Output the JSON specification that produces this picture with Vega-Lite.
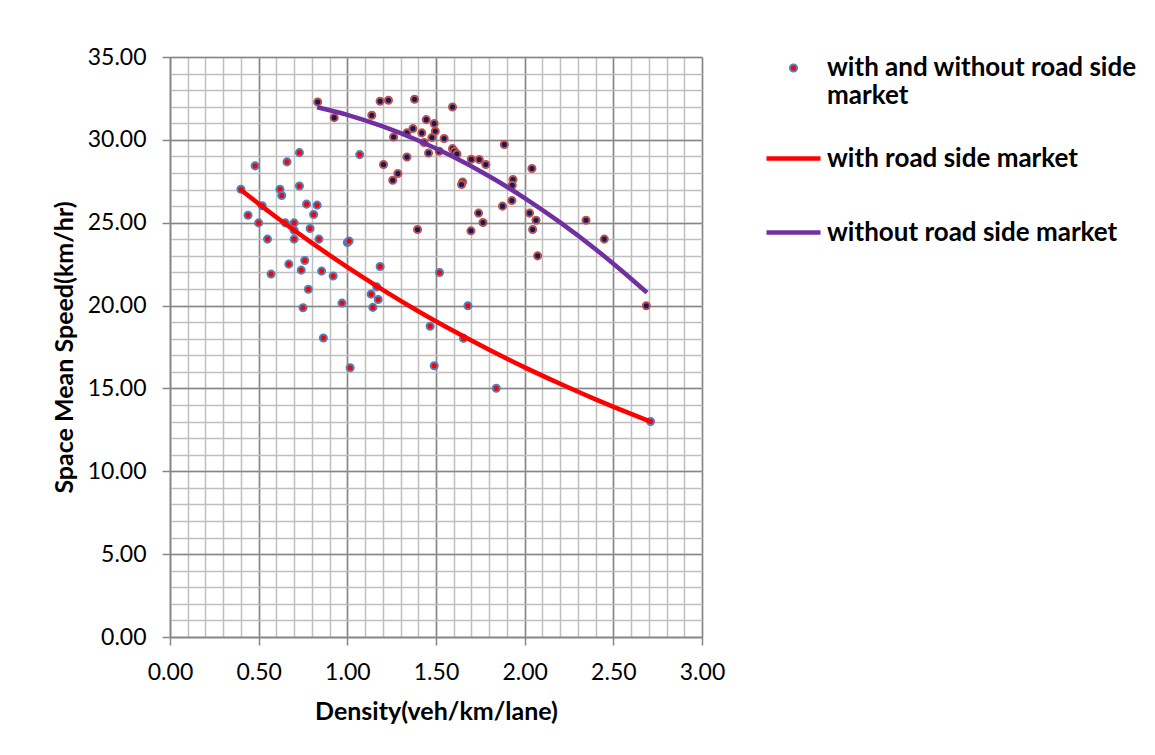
{
  "$schema": "https://vega.github.io/schema/vega-lite/v6.json",
  "width": 532,
  "height": 580,
  "autosize": {"type": "none"},
  "padding": {"left": 170, "top": 57, "right": 453, "bottom": 118},
  "background": "white",
  "config": {
    "view": {"stroke": null},
    "font": "Lato",
    "axis": {"labelFont": "Lato", "titleFont": "Lato"},
    "legend": {
      "orient": "none", "legendX": 594, "legendY": -2,
      "labelFont": "Lato", "labelFontSize": 26, "labelFontWeight": "bold", "labelColor": "#000000",
      "labelLimit": 600, "labelOffset": 4, "labelLineHeight": 33,
      "rowPadding": 20, "gridAlign": "all"
    }
  },
  "datasets": {
    "points": [
      {"density": 0.40, "speed": 27.02, "group": "with"},
      {"density": 0.44, "speed": 25.45, "group": "with"},
      {"density": 0.48, "speed": 28.43, "group": "with"},
      {"density": 0.50, "speed": 24.99, "group": "with"},
      {"density": 0.52, "speed": 26.02, "group": "with"},
      {"density": 0.55, "speed": 24.01, "group": "with"},
      {"density": 0.57, "speed": 21.90, "group": "with"},
      {"density": 0.62, "speed": 27.02, "group": "with"},
      {"density": 0.63, "speed": 26.64, "group": "with"},
      {"density": 0.65, "speed": 24.99, "group": "with"},
      {"density": 0.66, "speed": 28.67, "group": "with"},
      {"density": 0.67, "speed": 22.50, "group": "with"},
      {"density": 0.70, "speed": 24.99, "group": "with"},
      {"density": 0.70, "speed": 24.55, "group": "with"},
      {"density": 0.70, "speed": 24.01, "group": "with"},
      {"density": 0.73, "speed": 29.23, "group": "with"},
      {"density": 0.73, "speed": 27.22, "group": "with"},
      {"density": 0.74, "speed": 22.14, "group": "with"},
      {"density": 0.75, "speed": 19.87, "group": "with"},
      {"density": 0.76, "speed": 22.72, "group": "with"},
      {"density": 0.77, "speed": 26.12, "group": "with"},
      {"density": 0.78, "speed": 20.98, "group": "with"},
      {"density": 0.79, "speed": 24.65, "group": "with"},
      {"density": 0.81, "speed": 25.50, "group": "with"},
      {"density": 0.83, "speed": 26.06, "group": "with"},
      {"density": 0.84, "speed": 24.01, "group": "with"},
      {"density": 0.855, "speed": 22.08, "group": "with"},
      {"density": 0.865, "speed": 18.04, "group": "with"},
      {"density": 0.92, "speed": 21.78, "group": "with"},
      {"density": 0.97, "speed": 20.15, "group": "with"},
      {"density": 1.00, "speed": 23.81, "group": "with"},
      {"density": 1.01, "speed": 23.90, "group": "with"},
      {"density": 1.016, "speed": 16.25, "group": "with"},
      {"density": 1.07, "speed": 29.11, "group": "with"},
      {"density": 1.134, "speed": 20.69, "group": "with"},
      {"density": 1.144, "speed": 19.89, "group": "with"},
      {"density": 1.166, "speed": 21.13, "group": "with"},
      {"density": 1.174, "speed": 20.37, "group": "with"},
      {"density": 1.185, "speed": 22.36, "group": "with"},
      {"density": 1.467, "speed": 18.75, "group": "with"},
      {"density": 1.49, "speed": 16.37, "group": "with"},
      {"density": 1.52, "speed": 22.00, "group": "with"},
      {"density": 1.655, "speed": 18.02, "group": "with"},
      {"density": 1.68, "speed": 19.99, "group": "with"},
      {"density": 1.84, "speed": 15.01, "group": "with"},
      {"density": 2.71, "speed": 13.00, "group": "with"},
      {"density": 0.833, "speed": 32.28, "group": "without"},
      {"density": 0.926, "speed": 31.34, "group": "without"},
      {"density": 1.138, "speed": 31.48, "group": "without"},
      {"density": 1.185, "speed": 32.33, "group": "without"},
      {"density": 1.232, "speed": 32.39, "group": "without"},
      {"density": 1.379, "speed": 32.45, "group": "without"},
      {"density": 1.445, "speed": 31.22, "group": "without"},
      {"density": 1.49, "speed": 30.98, "group": "without"},
      {"density": 1.496, "speed": 30.52, "group": "without"},
      {"density": 1.477, "speed": 30.14, "group": "without"},
      {"density": 1.42, "speed": 30.42, "group": "without"},
      {"density": 1.37, "speed": 30.68, "group": "without"},
      {"density": 1.336, "speed": 30.42, "group": "without"},
      {"density": 1.261, "speed": 30.17, "group": "without"},
      {"density": 1.433, "speed": 29.84, "group": "without"},
      {"density": 1.458, "speed": 29.21, "group": "without"},
      {"density": 1.336, "speed": 28.97, "group": "without"},
      {"density": 1.204, "speed": 28.51, "group": "without"},
      {"density": 1.285, "speed": 27.97, "group": "without"},
      {"density": 1.256, "speed": 27.56, "group": "without"},
      {"density": 1.396, "speed": 24.59, "group": "without"},
      {"density": 1.593, "speed": 31.98, "group": "without"},
      {"density": 1.546, "speed": 30.08, "group": "without"},
      {"density": 1.518, "speed": 29.31, "group": "without"},
      {"density": 1.885, "speed": 29.72, "group": "without"},
      {"density": 1.593, "speed": 29.47, "group": "without"},
      {"density": 1.604, "speed": 29.31, "group": "without"},
      {"density": 1.618, "speed": 29.15, "group": "without"},
      {"density": 1.699, "speed": 28.83, "group": "without"},
      {"density": 1.744, "speed": 28.81, "group": "without"},
      {"density": 1.781, "speed": 28.51, "group": "without"},
      {"density": 2.041, "speed": 28.27, "group": "without"},
      {"density": 1.650, "speed": 27.46, "group": "without"},
      {"density": 1.644, "speed": 27.31, "group": "without"},
      {"density": 1.934, "speed": 27.61, "group": "without"},
      {"density": 1.930, "speed": 27.26, "group": "without"},
      {"density": 1.928, "speed": 26.34, "group": "without"},
      {"density": 1.875, "speed": 26.00, "group": "without"},
      {"density": 1.740, "speed": 25.58, "group": "without"},
      {"density": 1.765, "speed": 25.01, "group": "without"},
      {"density": 1.697, "speed": 24.51, "group": "without"},
      {"density": 2.028, "speed": 25.58, "group": "without"},
      {"density": 2.064, "speed": 25.15, "group": "without"},
      {"density": 2.045, "speed": 24.59, "group": "without"},
      {"density": 2.346, "speed": 25.15, "group": "without"},
      {"density": 2.449, "speed": 24.01, "group": "without"},
      {"density": 2.073, "speed": 23.00, "group": "without"},
      {"density": 2.686, "speed": 19.99, "group": "without"}
    ],
    "curves": [
      {"density": 0.395, "speed": 27.02, "series": "with road side market"},
      {"density": 0.6, "speed": 25.33, "series": "with road side market"},
      {"density": 0.8, "speed": 23.78, "series": "with road side market"},
      {"density": 1.0, "speed": 22.32, "series": "with road side market"},
      {"density": 1.2, "speed": 20.95, "series": "with road side market"},
      {"density": 1.4, "speed": 19.66, "series": "with road side market"},
      {"density": 1.6, "speed": 18.46, "series": "with road side market"},
      {"density": 1.8, "speed": 17.33, "series": "with road side market"},
      {"density": 2.0, "speed": 16.27, "series": "with road side market"},
      {"density": 2.2, "speed": 15.28, "series": "with road side market"},
      {"density": 2.4, "speed": 14.34, "series": "with road side market"},
      {"density": 2.6, "speed": 13.46, "series": "with road side market"},
      {"density": 2.71, "speed": 13.0, "series": "with road side market"},
      {"density": 0.83, "speed": 31.97, "series": "without road side market"},
      {"density": 1.0, "speed": 31.51, "series": "without road side market"},
      {"density": 1.2, "speed": 30.81, "series": "without road side market"},
      {"density": 1.4, "speed": 29.96, "series": "without road side market"},
      {"density": 1.6, "speed": 28.96, "series": "without road side market"},
      {"density": 1.8, "speed": 27.80, "series": "without road side market"},
      {"density": 2.0, "speed": 26.49, "series": "without road side market"},
      {"density": 2.2, "speed": 25.02, "series": "without road side market"},
      {"density": 2.4, "speed": 23.40, "series": "without road side market"},
      {"density": 2.6, "speed": 21.62, "series": "without road side market"},
      {"density": 2.69, "speed": 20.78, "series": "without road side market"}
    ]
  },
  "layer": [
    {
      "data": {"name": "points"},
      "transform": [{"filter": "datum.group === 'with'"}],
      "mark": {"type": "point", "filled": false, "opacity": 1, "fillOpacity": 1, "strokeOpacity": 1},
      "encoding": {
        "x": {
          "field": "density", "type": "quantitative",
          "scale": {"domain": [0, 3], "nice": false, "zero": false},
          "axis": {
            "orient": "bottom", "values": [0,0.1,0.2,0.3,0.4,0.5,0.6,0.7,0.8,0.9,1,1.1,1.2,1.3,1.4,1.5,1.6,1.7,1.8,1.9,2,2.1,2.2,2.3,2.4,2.5,2.6,2.7,2.8,2.9,3],
            "grid": true, "gridColor": "#BFBFBF", "gridWidth": 1.5, "gridOpacity": 1,
            "labels": false, "ticks": false, "domain": false, "title": null, "zindex": 0
          }
        },
        "y": {
          "field": "speed", "type": "quantitative",
          "scale": {"domain": [0, 35], "nice": false, "zero": false},
          "axis": {
            "orient": "left", "values": [0,1,2,3,4,5,6,7,8,9,10,11,12,13,14,15,16,17,18,19,20,21,22,23,24,25,26,27,28,29,30,31,32,33,34,35],
            "grid": true, "gridColor": "#BFBFBF", "gridWidth": 1.5, "gridOpacity": 1,
            "labels": false, "ticks": false, "domain": false, "title": null, "zindex": 0
          }
        },
        "fill": {
          "datum": "with and without road side market", "type": "nominal",
          "scale": {
            "domain": ["with and without road side market", "with road side market", "without road side market"],
            "range": ["#FF0000", "transparent", "transparent"]
          },
          "legend": {
            "title": null,
            "labelExpr": "datum.value === 'with and without road side market' ? ['with and without road side', 'market'] : datum.label"
          }
        },
        "stroke": {
          "datum": "with and without road side market", "type": "nominal",
          "scale": {
            "domain": ["with and without road side market", "with road side market", "without road side market"],
            "range": ["#4F81BD", "#FF0000", "#7030A0"]
          },
          "legend": {
            "title": null,
            "labelExpr": "datum.value === 'with and without road side market' ? ['with and without road side', 'market'] : datum.label"
          }
        },
        "shape": {
          "datum": "with and without road side market", "type": "nominal",
          "scale": {
            "domain": ["with and without road side market", "with road side market", "without road side market"],
            "range": ["circle", "stroke", "stroke"]
          },
          "legend": {
            "title": null,
            "labelExpr": "datum.value === 'with and without road side market' ? ['with and without road side', 'market'] : datum.label"
          }
        },
        "size": {
          "datum": "with and without road side market", "type": "ordinal",
          "scale": {
            "type": "ordinal",
            "domain": ["with and without road side market", "with road side market", "without road side market"],
            "range": [50, 2916, 2916]
          },
          "legend": {
            "title": null,
            "labelExpr": "datum.value === 'with and without road side market' ? ['with and without road side', 'market'] : datum.label"
          }
        },
        "strokeWidth": {
          "datum": "with and without road side market", "type": "ordinal",
          "scale": {
            "type": "ordinal",
            "domain": ["with and without road side market", "with road side market", "without road side market"],
            "range": [2, 4.5, 4.5]
          },
          "legend": {
            "title": null,
            "labelExpr": "datum.value === 'with and without road side market' ? ['with and without road side', 'market'] : datum.label"
          }
        }
      }
    },
    {
      "data": {"name": "points"},
      "transform": [{"filter": "datum.group === 'without'"}],
      "mark": {"type": "circle", "size": 50, "fill": "#0B1F5E", "stroke": "#C0504D", "strokeWidth": 2, "opacity": 1},
      "encoding": {
        "x": {
          "field": "density", "type": "quantitative",
          "axis": {
            "orient": "bottom", "values": [0, 0.5, 1, 1.5, 2, 2.5, 3], "format": ".2f",
            "grid": true, "gridColor": "#868686", "gridWidth": 1.5, "gridOpacity": 1,
            "domain": true, "domainColor": "#868686", "domainWidth": 1.5,
            "ticks": true, "tickColor": "#868686", "tickWidth": 1.5, "tickSize": 8,
            "labelFont": "Lato", "labelFontSize": 23, "labelColor": "#000000", "labelPadding": 16, "labelFlush": false,
            "title": "Density(veh/km/lane)", "titleFont": "Lato", "titleFontSize": 25, "titleFontWeight": "bold", "titleColor": "#000000", "titlePadding": 15,
            "zindex": 0
          }
        },
        "y": {
          "field": "speed", "type": "quantitative",
          "axis": {
            "orient": "left", "values": [0, 5, 10, 15, 20, 25, 30, 35], "format": ".2f",
            "grid": true, "gridColor": "#868686", "gridWidth": 1.5, "gridOpacity": 1,
            "domain": true, "domainColor": "#868686", "domainWidth": 1.5,
            "ticks": true, "tickColor": "#868686", "tickWidth": 1.5, "tickSize": 8,
            "labelFont": "Lato", "labelFontSize": 23, "labelColor": "#000000", "labelPadding": 16, "labelFlush": false,
            "title": "Space Mean Speed(km/hr)", "titleFont": "Lato", "titleFontSize": 25, "titleFontWeight": "bold", "titleColor": "#000000", "titlePadding": 10,
            "zindex": 0
          }
        }
      }
    },
    {
      "data": {"name": "curves"},
      "mark": {"type": "line", "strokeWidth": 4.5, "interpolate": "monotone"},
      "encoding": {
        "x": {"field": "density", "type": "quantitative", "axis": null},
        "y": {"field": "speed", "type": "quantitative", "axis": null},
        "stroke": {
          "field": "series", "type": "nominal",
          "legend": {
            "title": null,
            "labelExpr": "datum.value === 'with and without road side market' ? ['with and without road side', 'market'] : datum.label"
          }
        }
      }
    }
  ],
  "resolve": {"axis": {"x": "independent", "y": "independent"}}
}
